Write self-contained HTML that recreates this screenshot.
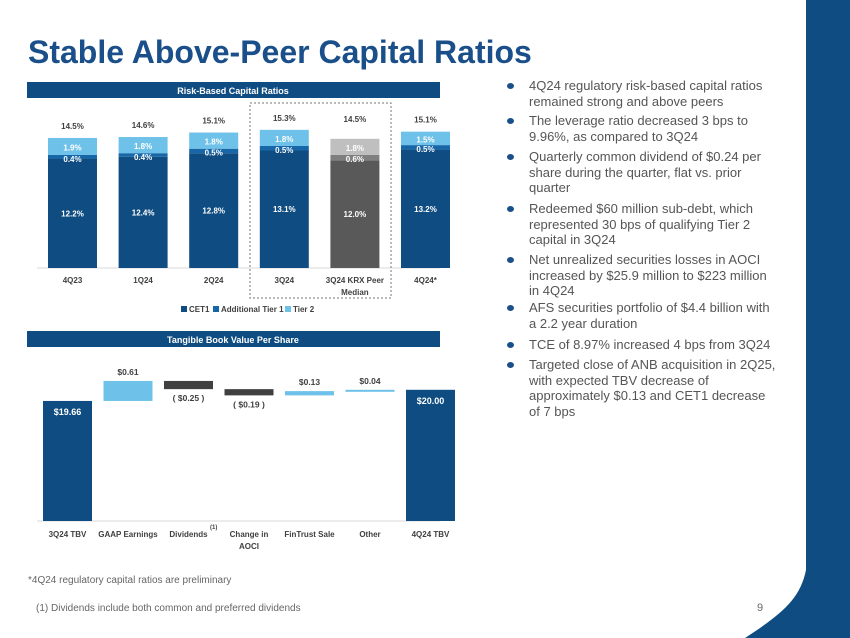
<!DOCTYPE html>
<html><head><meta charset="utf-8"><style>
html,body{margin:0;padding:0;background:#fff;}
body{width:850px;height:638px;position:relative;overflow:hidden;font-family:"Liberation Sans",sans-serif;}
.t{position:absolute;}
.bul{position:absolute;left:529px;width:250px;font-size:13px;line-height:15.7px;color:#555;}
.dot{position:absolute;left:-22px;top:5px;width:7px;height:6px;border-radius:50%;background:#1a4f8a;}
</style></head><body>
<svg width="850" height="638" style="position:absolute;left:0;top:0">
<path d="M806,0 L850,0 L850,638 L745,638 C780,615 800,600 806,570 Z" fill="#0f4c81"/>
<text x="28" y="63" font-size="32" font-weight="bold" fill="#1a4f8a" font-family="Liberation Sans, sans-serif">Stable Above-Peer Capital Ratios</text>
<g id="c1" font-family="Liberation Sans, sans-serif" font-weight="bold"></g>
<g id="c2" font-family="Liberation Sans, sans-serif" font-weight="bold"></g>
<text x="28" y="583" font-size="10" fill="#666">*4Q24 regulatory capital ratios are preliminary</text>
<text x="36" y="611" font-size="10" fill="#666">(1) Dividends include both common and preferred dividends</text>
<text x="757" y="611" font-size="11" fill="#666">9</text>
</svg>
<div class="bul" style="top:78px"><span class="dot"></span>4Q24 regulatory risk-based capital ratios remained strong and above peers</div>
<div class="bul" style="top:113px"><span class="dot"></span>The leverage ratio decreased 3 bps to 9.96%, as compared to 3Q24</div>
<div class="bul" style="top:149px"><span class="dot"></span>Quarterly common dividend of $0.24 per share during the quarter, flat vs. prior quarter</div>
<div class="bul" style="top:201px"><span class="dot"></span>Redeemed $60 million sub-debt, which represented 30 bps of qualifying Tier 2 capital in 3Q24</div>
<div class="bul" style="top:252px"><span class="dot"></span>Net unrealized securities losses in AOCI increased by $25.9 million to $223 million in 4Q24</div>
<div class="bul" style="top:300px"><span class="dot"></span>AFS securities portfolio of $4.4 billion with a 2.2 year duration</div>
<div class="bul" style="top:337px"><span class="dot"></span>TCE of 8.97% increased 4 bps from 3Q24</div>
<div class="bul" style="top:357px"><span class="dot"></span>Targeted close of ANB acquisition in 2Q25, with expected TBV decrease of approximately $0.13 and CET1 decrease of 7 bps</div>
<script>
const rbcCategories = ["4Q23","1Q24","2Q24","3Q24","3Q24 KRX Peer|Median","4Q24*"];
const cet1 = [12.2,12.4,12.8,13.1,12.0,13.2];
const at1 = [0.4,0.4,0.5,0.5,0.6,0.5];
const tier2 = [1.9,1.8,1.8,1.8,1.8,1.5];
const totals = [14.5,14.6,15.1,15.3,14.5,15.1];

const tbvCategories = ["3Q24 TBV","GAAP Earnings","Dividends","Change in|AOCI","FinTrust Sale","Other","4Q24 TBV"];
const tbvStart = 19.66;
const tbvDeltas = [0.61,-0.25,-0.19,0.13,0.04];
const tbvEnd = 20.00;
const tbvAxisMin = 16.0;

const NS="http://www.w3.org/2000/svg";
function mk(parent,tag,attrs,txt){const e=document.createElementNS(NS,tag);for(const k in attrs)e.setAttribute(k,attrs[k]);if(txt!=null)e.textContent=txt;parent.appendChild(e);return e;}

// Chart 1
const c1=document.getElementById('c1');
let h=mk(c1,'rect',{x:27,y:82,width:413,height:16,fill:'#0f4c81'});


h=mk(c1,'text',{x:233,y:94,'font-size':9,fill:'#fff','text-anchor':'middle'},'Risk-Based Capital Ratios');


const base1=268, ppp=8.97;
function y1(v){return base1-v*ppp;}
function x1(i){return 48+i*70.6;}
const bw=49;
let ax=mk(c1,'line',{x1:37,y1:base1,x2:440,y2:base1,stroke:'#d9d9d9','stroke-width':1});


let box=mk(c1,'rect',{x:250,y:103,width:141,height:195,fill:'none',stroke:'#777','stroke-dasharray':'2,2','stroke-width':1});


rbcCategories.forEach((c,i)=>{
  const peer=i===4;
  const cols=peer?['#595959','#7f7f7f','#bfbfbf']:['#0f4c81','#1666a8','#6ec1e8'];
  const segs=[cet1[i],at1[i],tier2[i]];
  const names=['cet1','at1','tier2'];
  let acc=0;
  segs.forEach((v,k)=>{
    const r=mk(c1,'rect',{x:x1(i),y:y1(acc+v),width:bw,height:v*ppp,fill:cols[k]});
    
    
    acc+=v;
  });
  const cx=x1(i)+bw/2;
  let t=mk(c1,'text',{x:cx,y:y1(cet1[i]/2)+3,'font-size':8,fill:'#fff','text-anchor':'middle'},cet1[i].toFixed(1)+'%');
  
  
  t=mk(c1,'text',{x:cx,y:y1(cet1[i]+at1[i])+7,'font-size':8,fill:'#fff','text-anchor':'middle'},at1[i].toFixed(1)+'%');
  
  
  t=mk(c1,'text',{x:cx,y:y1(cet1[i]+at1[i]+tier2[i]/2)+4,'font-size':8,fill:'#fff','text-anchor':'middle'},tier2[i].toFixed(1)+'%');
  
  
  t=mk(c1,'text',{x:cx,y:y1(acc)-(peer?17:9),'font-size':8,fill:'#404040','text-anchor':'middle'},totals[i].toFixed(1)+'%');
  
  
  c.split('|').forEach((ln,j)=>{
    const l=mk(c1,'text',{x:cx,y:283+j*12,'font-size':8,fill:'#404040','text-anchor':'middle'},ln);
    
    
  });
});
[['CET1','#0f4c81',181],['Additional Tier 1','#1666a8',213],['Tier 2','#6ec1e8',285]].forEach((l,i)=>{
  const r=mk(c1,'rect',{x:l[2],y:306,width:6,height:6,fill:l[1]});
  
  
  const t=mk(c1,'text',{x:l[2]+8,y:312,'font-size':8,fill:'#404040'},l[0]);
  
  
});

// Chart 2
const c2=document.getElementById('c2');
h=mk(c2,'rect',{x:27,y:331,width:413,height:16,fill:'#0f4c81'});


h=mk(c2,'text',{x:233,y:343,'font-size':9,fill:'#fff','text-anchor':'middle'},'Tangible Book Value Per Share');


const base2=521, ppd=32.8;
function y2(v){return base2-(v-tbvAxisMin)*ppd;}
function x2(i){return 43+i*60.5;}
ax=mk(c2,'line',{x1:37,y1:base2,x2:440,y2:base2,stroke:'#d9d9d9','stroke-width':1});


function endBar(i,v,name){
  const r=mk(c2,'rect',{x:x2(i),y:y2(v),width:bw,height:base2-y2(v),fill:'#0f4c81'});
  
  
  const t=mk(c2,'text',{x:x2(i)+bw/2,y:y2(v)+14,'font-size':9,fill:'#fff','text-anchor':'middle'},'$'+v.toFixed(2));
  
  
}
endBar(0,tbvStart,'bar-3q24-tbv');
let cum=tbvStart;
tbvDeltas.forEach((d,k)=>{
  const i=k+1, a=cum, b=cum+d;
  const top=y2(Math.max(a,b)), hh=Math.max(Math.abs(d)*ppd,2);
  const r=mk(c2,'rect',{x:x2(i),y:top,width:bw,height:hh,fill:d>=0?'#6ec1e8':'#404040'});
  
  
  const cx=x2(i)+bw/2;
  const txt=d>=0?'$'+d.toFixed(2):'( $'+Math.abs(d).toFixed(2)+' )';
  const ty=d>=0?top-6:top+hh+12;
  const t=mk(c2,'text',{x:cx,y:ty,'font-size':8.5,fill:'#404040','text-anchor':'middle'},txt);
  
  
  cum=b;
});
endBar(6,tbvEnd,'bar-4q24-tbv');
tbvCategories.forEach((c,i)=>{
  const cx=x2(i)+bw/2;
  c.split('|').forEach((ln,j)=>{
    const l=mk(c2,'text',{x:cx,y:537+j*12,'font-size':8,fill:'#404040','text-anchor':'middle'},ln);
    
    
  });
});
const sup=mk(c2,'text',{x:x2(2)+46,y:529,'font-size':6,fill:'#404040'},'(1)');


</script>
</body></html>
